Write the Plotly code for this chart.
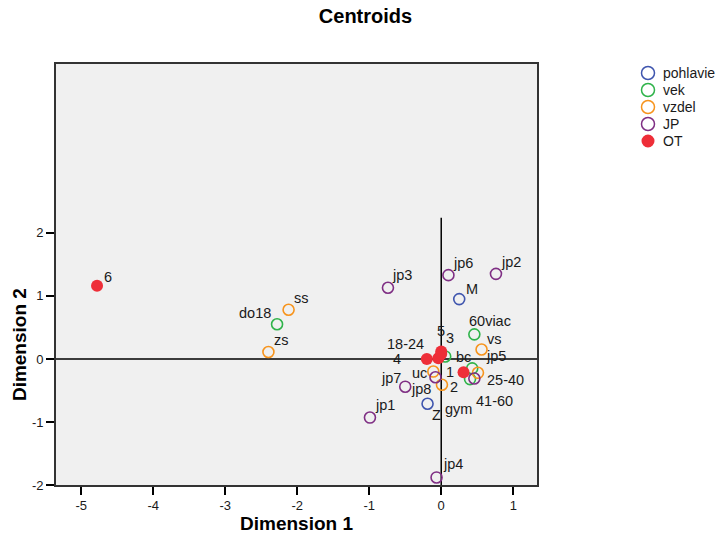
import plotly.graph_objects as go

# ---- data ----
pohlavie_lab = ["M", "Z"]
pohlavie_d1 = [0.25, -0.19]
pohlavie_d2 = [0.95, -0.71]

vek_lab = ["do18", "18-24", "25-40", "41-60", "60viac"]
vek_d1 = [-2.28, 0.055, 0.43, 0.40, 0.46]
vek_d2 = [0.55, 0.04, -0.15, -0.32, 0.39]

vzdel_lab = ["zs", "ss", "uc", "gym", "bc", "vs"]
vzdel_d1 = [-2.40, -2.12, -0.11, 0.01, 0.51, 0.56]
vzdel_d2 = [0.11, 0.78, -0.20, -0.41, -0.22, 0.15]

jp_lab = ["jp1", "jp2", "jp3", "jp4", "jp5", "jp6", "jp7", "jp8"]
jp_d1 = [-0.99, 0.76, -0.74, -0.065, 0.46, 0.10, -0.50, -0.08]
jp_d2 = [-0.93, 1.35, 1.13, -1.88, -0.31, 1.33, -0.44, -0.29]

ot_lab = ["1", "2", "3", "4", "5", "6"]
ot_d1 = [0.31, -0.04, 0.0, -0.20, 0.0, -4.78]
ot_d2 = [-0.21, 0.01, 0.12, 0.0, 0.08, 1.16]

x_ticks = [-5, -4, -3, -2, -1, 0, 1]
x_tick_text = ["-5", "-4", "-3", "-2", "-1", "0", "1"]
y_ticks = [-2, -1, 0, 1, 2]
y_tick_text = ["-2", "-1", "0", "1", "2"]

# ---- label placement (pixel offsets of label centre, style only) ----
label_off = {
    "M": (13, 10), "Z": (9, -11),
    "do18": (-22, 11), "18-24": (-40, 12), "25-40": (33, -12), "41-60": (24, -22), "60viac": (16, 13),
    "zs": (13, 12), "ss": (13, 12), "uc": (-14, -1), "gym": (17, -24), "bc": (-14, 16), "vs": (13, 11),
    "jp1": (15, 13), "jp2": (15, 12), "jp3": (14, 13), "jp4": (16, 13), "jp5": (22, 22),
    "jp6": (15, 12), "jp7": (-14, 9), "jp8": (-14, -12),
    "1": (-14, 0), "2": (16, -29), "3": (9, 13), "4": (-30, 0), "5": (0, 23), "6": (11, 9),
}

FONT = "Liberation Sans, Arial, sans-serif"
LABEL_SIZE = 14.5

groups = [
    ("pohlavie", pohlavie_lab, pohlavie_d1, pohlavie_d2, "#3f55ae", False),
    ("vek", vek_lab, vek_d1, vek_d2, "#2fb34a", False),
    ("vzdel", vzdel_lab, vzdel_d1, vzdel_d2, "#f7941d", False),
    ("JP", jp_lab, jp_d1, jp_d2, "#7f2f84", False),
    ("OT", ot_lab, ot_d1, ot_d2, "#ee2e38", True),
]

fig = go.Figure()
annotations = []
shapes = []

# page geometry (pixels in a 715x535 page; plot area 56..537 x 64..485)
L, R, T, B = 56, 537, 64, 485
PW, PH = R - L, B - T
def px_to_paper_x(px):
    return (px - L) / PW
def px_to_paper_y(py):
    return (B - py) / PH

for i, (name, labs, d1, d2, col, filled) in enumerate(groups):
    if filled:
        marker = dict(symbol="circle", size=12, color=col, line=dict(width=0))
    else:
        marker = dict(symbol="circle-open", size=11, color=col, line=dict(width=1.6, color=col))
    fig.add_trace(go.Scatter(x=d1, y=d2, mode="markers", name=name, marker=marker,
                             text=labs, hoverinfo="text+x+y", showlegend=False))
    for lab, xv, yv in zip(labs, d1, d2):
        dx, dy = label_off[lab]
        annotations.append(dict(x=xv, y=yv, xref="x", yref="y", text=lab, showarrow=False,
                                xshift=dx, yshift=dy,
                                font=dict(family=FONT, size=LABEL_SIZE, color="#1a1a1a")))
    # manual legend entry
    cy = 73 + 17 * i
    cx = 648
    shapes.append(dict(type="circle", xref="paper", yref="paper",
                       xsizemode="pixel", ysizemode="pixel",
                       xanchor=px_to_paper_x(cx), yanchor=px_to_paper_y(cy),
                       x0=-6.5, x1=6.5, y0=-6.5, y1=6.5,
                       fillcolor=col if filled else "rgba(0,0,0,0)",
                       line=dict(color=col, width=0 if filled else 1.5)))
    annotations.append(dict(x=px_to_paper_x(661), y=px_to_paper_y(cy), xref="paper", yref="paper",
                            text=name, showarrow=False, xanchor="left", yanchor="middle",
                            font=dict(family=FONT, size=14, color="#1a1a1a")))

# reference lines at 0
shapes.append(dict(type="line", xref="paper", yref="y", x0=0, x1=1, y0=0, y1=0,
                   line=dict(color="black", width=1.5), layer="below"))
shapes.append(dict(type="line", xref="x", yref="y", x0=0, x1=0, y0=-2, y1=2.24,
                   line=dict(color="black", width=1.5), layer="below"))

# y axis title (centered on the labelled range)
annotations.append(dict(x=px_to_paper_x(19), y=0.22, xref="paper", yref="y", text="<b>Dimension 2</b>",
                        textangle=-90, showarrow=False, xanchor="center", yanchor="middle",
                        font=dict(family=FONT, size=19, color="black")))

axis_common = dict(showgrid=False, zeroline=False, showline=True, linecolor="#333", linewidth=1.6,
                   mirror=True, ticks="outside", ticklen=8, tickwidth=1.6, tickcolor="black",
                   automargin=False,
                   tickfont=dict(family=FONT, size=13, color="#1a1a1a"))

fig.update_layout(
    width=715, height=535,
    margin=dict(l=L, r=715 - R, t=T, b=535 - B, autoexpand=False),
    paper_bgcolor="white", plot_bgcolor="#f0f0f0",
    title=dict(text="<b>Centroids</b>", x=365.5 / 715, xref="container", y=1 - 16 / 535, yref="container",
               xanchor="center", yanchor="middle", font=dict(family=FONT, size=20, color="black")),
    xaxis=dict(range=[-5.35, 1.33], tickvals=x_ticks, ticktext=x_tick_text,
               title=dict(text="<b>Dimension 1</b>", standoff=3,
                          font=dict(family=FONT, size=19, color="black")),
               **axis_common),
    yaxis=dict(range=[-2, 4.68], tickvals=y_ticks, ticktext=y_tick_text, **axis_common),
    annotations=annotations,
    shapes=shapes,
    showlegend=False,
)

fig.write_html("out.html", config={"displayModeBar": False},
               post_script="document.body.style.margin='0';document.body.style.overflow='hidden';")
